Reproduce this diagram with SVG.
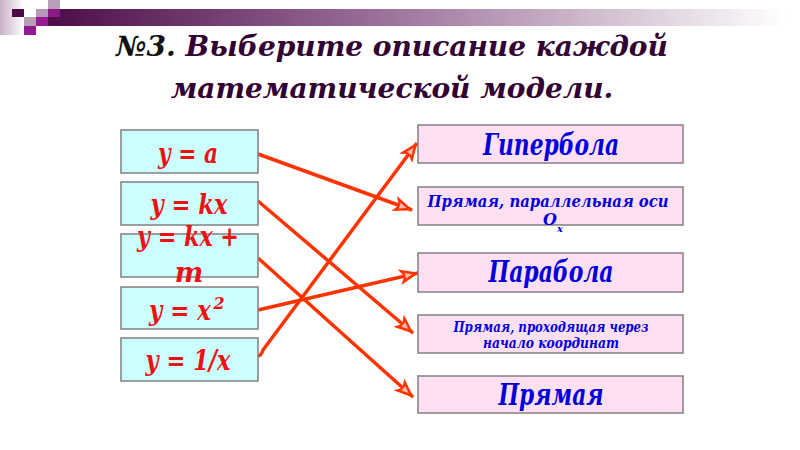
<svg xmlns="http://www.w3.org/2000/svg" width="800" height="450" viewBox="0 0 800 450">
<defs>
<linearGradient id="bar" x1="0" y1="0" x2="1" y2="0">
<stop offset="0" stop-color="#4a0a48"/>
<stop offset="0.45" stop-color="#9a6e98"/>
<stop offset="1" stop-color="#ffffff"/>
</linearGradient>
<linearGradient id="side" x1="0" y1="0" x2="1" y2="0">
<stop offset="0" stop-color="#c8b0c8"/>
<stop offset="1" stop-color="#ffffff"/>
</linearGradient>
<marker id="ah" viewBox="0 0 20 16" refX="19" refY="8" markerWidth="20" markerHeight="16" markerUnits="userSpaceOnUse" orient="auto">
<path d="M0,0 L20,8 L0,16 L5,8 Z" fill="#ff3300"/>
<path d="M6,5 L13,8 L6,11 Z" fill="#ffb8a8"/>
</marker>
<style>
.lb{fill:#ccffff;stroke:#808080;stroke-width:1.5}
.rb{fill:#ffe0f2;stroke:#808080;stroke-width:1.5}
text{font-family:'DejaVu Serif',serif;font-weight:bold;font-style:italic}
.lt{fill:#ee1111;font-size:27px;text-anchor:middle}
.rt{fill:#0000dd;text-anchor:middle}
.big{font-size:30px}
.ttl{fill:#330033;font-size:28px;text-anchor:middle}
.sup{font-size:16px}
.con{fill:none;stroke:#ff3300;stroke-width:3.5;marker-end:url(#ah)}
</style>
</defs>
<rect width="800" height="450" fill="#ffffff"/>
<g id="header">
<rect x="0" y="0" width="24" height="35" fill="url(#side)"/>
<rect x="40" y="9" width="745" height="17" fill="url(#bar)"/>
<rect x="12" y="9" width="12" height="8" fill="#4a0a48"/>
<rect x="48" y="0" width="12" height="9" fill="#b8a0b8"/>
<rect x="36" y="9" width="12" height="8" fill="#b898b8"/>
<rect x="48" y="9" width="12" height="8" fill="#8a1a88"/>
<rect x="24" y="17" width="12" height="9" fill="#b8a0b8"/>
<rect x="36" y="17" width="12" height="9" fill="#9a1a96"/>
<rect x="24" y="26" width="12" height="9" fill="#901890"/>
</g>
<g id="title">
<text class="ttl" x="392" y="56"><tspan fill="#111111">№3.</tspan> Выберите  описание  каждой</text>
<text class="ttl" x="392" y="98">математической  модели.</text>
</g>
<g id="connectors">
<path class="con" d="M258,154 L412,210"/>
<path class="con" d="M258,201 L413,333"/>
<path class="con" d="M258,258 L413,397"/>
<path class="con" d="M258,310 L418,273"/>
<path class="con" d="M258,356 Q261,356 263,350 L417,143"/>
</g>
<g id="n-ya"><rect class="lb" x="121" y="130" width="137" height="43"/><text class="lt" x="188" y="163" textLength="60" lengthAdjust="spacingAndGlyphs">y = a</text></g>
<g id="n-ykx"><rect class="lb" x="121" y="182" width="137" height="43"/><text class="lt" x="189" y="214" textLength="77" lengthAdjust="spacingAndGlyphs">y = kx</text></g>
<g id="n-ykxm"><rect class="lb" x="121" y="234" width="137" height="43"/><text class="lt" x="188" y="246" textLength="102" lengthAdjust="spacingAndGlyphs">y = kx +</text><text class="lt" x="189" y="282">m</text></g>
<g id="n-yx2"><rect class="lb" x="121" y="287" width="137" height="42"/><text class="lt" x="180" y="320" textLength="62" lengthAdjust="spacingAndGlyphs">y = x</text><text class="lt sup" x="219" y="309">2</text></g>
<g id="n-y1x"><rect class="lb" x="121" y="338" width="137" height="43"/><text class="lt" x="188" y="370" textLength="85" lengthAdjust="spacingAndGlyphs">y = 1/x</text></g>
<g id="n-hyp"><rect class="rb" x="418" y="125" width="265" height="38"/><text class="rt big" x="551" y="155" textLength="136" lengthAdjust="spacingAndGlyphs">Гипербола</text></g>
<g id="n-par-ox"><rect class="rb" x="418" y="187" width="265" height="38"/><text class="rt" font-size="16" x="548" y="207" textLength="241" lengthAdjust="spacingAndGlyphs">Прямая, параллельная оси</text><text class="rt" font-size="16" x="553" y="225">O<tspan font-size="10" dy="7">x</tspan></text></g>
<g id="n-parab"><rect class="rb" x="418" y="253" width="265" height="39"/><text class="rt big" x="551" y="282" textLength="125" lengthAdjust="spacingAndGlyphs">Парабола</text></g>
<g id="n-origin"><rect class="rb" x="418" y="315" width="265" height="38"/><text class="rt" font-size="14" x="551" y="332" textLength="195" lengthAdjust="spacingAndGlyphs">Прямая, проходящая через</text><text class="rt" font-size="14" x="551" y="348" textLength="136" lengthAdjust="spacingAndGlyphs">начало координат</text></g>
<g id="n-line"><rect class="rb" x="418" y="376" width="265" height="37"/><text class="rt big" x="551" y="405" textLength="105" lengthAdjust="spacingAndGlyphs">Прямая</text></g>
</svg>
